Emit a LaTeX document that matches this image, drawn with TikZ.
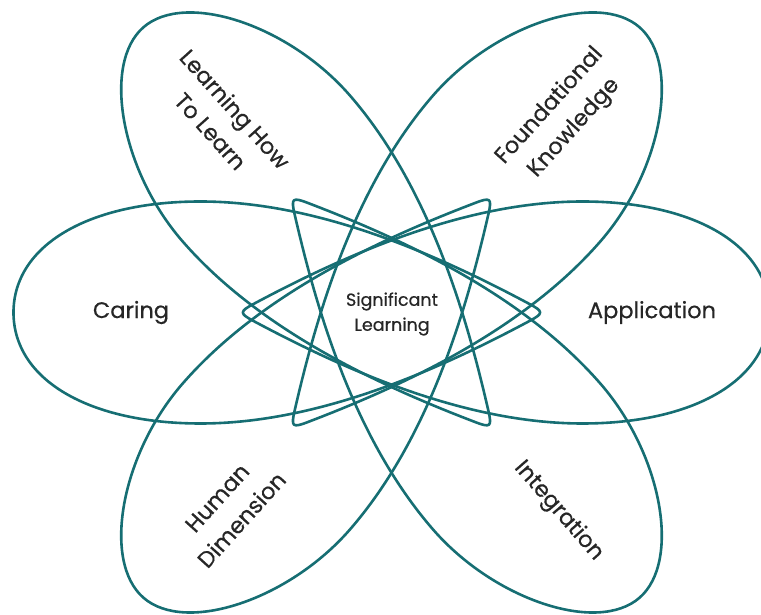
\documentclass[tikz,border=0pt]{standalone}
\usepackage{fontspec}
\setmainfont{Poppins}
\newfontfamily\labelfont[FakeBold=0.5]{Poppins}
\usepackage{tikz}
\definecolor{petalteal}{RGB}{22,110,115}

\begin{document}
\begin{tikzpicture}[x=0.3515cm,y=0.3515cm]
\tikzstyle{petal}=[draw=petalteal,line width=2.6pt]
\tikzstyle{area}=[font=\labelfont\fontsize{22.5}{33}\selectfont,text=black!85,align=center,inner sep=0pt]
\useasboundingbox (-39.15,-30.25) rectangle (36.95,31.25);

% Petals across the middle, wide end outwards
\draw[petal,rotate=0] (-13.8,0.85) .. controls (-5.0,5.55) and (7.1,11.1) .. (19.1,11.1) .. controls (30.3,11.1) and (37.8,6.7) .. (37.8,0) .. controls (37.8,-6.7) and (30.3,-11.1) .. (19.1,-11.1) .. controls (7.1,-11.1) and (-5.0,-5.55) .. (-13.8,-0.85) .. controls (-15.21,-0.10) and (-15.21,0.10) .. cycle;
\draw[petal,rotate=180] (-13.8,0.85) .. controls (-5.0,5.55) and (7.1,11.1) .. (19.1,11.1) .. controls (30.3,11.1) and (37.8,6.7) .. (37.8,0) .. controls (37.8,-6.7) and (30.3,-11.1) .. (19.1,-11.1) .. controls (7.1,-11.1) and (-5.0,-5.55) .. (-13.8,-0.85) .. controls (-15.21,-0.10) and (-15.21,0.10) .. cycle;

% Slanted petals, a bit less full at the end
\draw[petal,rotate=49] (-13.8,0.85) .. controls (-5.0,5.55) and (7.1,11.1) .. (19.1,11.1) .. controls (28.45,11.1) and (37.8,5.55) .. (37.8,0) .. controls (37.8,-5.55) and (28.45,-11.1) .. (19.1,-11.1) .. controls (7.1,-11.1) and (-5.0,-5.55) .. (-13.8,-0.85) .. controls (-15.21,-0.10) and (-15.21,0.10) .. cycle;
\draw[petal,rotate=131] (-13.8,0.85) .. controls (-5.0,5.55) and (7.1,11.1) .. (19.1,11.1) .. controls (28.45,11.1) and (37.8,5.55) .. (37.8,0) .. controls (37.8,-5.55) and (28.45,-11.1) .. (19.1,-11.1) .. controls (7.1,-11.1) and (-5.0,-5.55) .. (-13.8,-0.85) .. controls (-15.21,-0.10) and (-15.21,0.10) .. cycle;
\draw[petal,rotate=229] (-13.8,0.85) .. controls (-5.0,5.55) and (7.1,11.1) .. (19.1,11.1) .. controls (28.45,11.1) and (37.8,5.55) .. (37.8,0) .. controls (37.8,-5.55) and (28.45,-11.1) .. (19.1,-11.1) .. controls (7.1,-11.1) and (-5.0,-5.55) .. (-13.8,-0.85) .. controls (-15.21,-0.10) and (-15.21,0.10) .. cycle;
\draw[petal,rotate=311] (-13.8,0.85) .. controls (-5.0,5.55) and (7.1,11.1) .. (19.1,11.1) .. controls (28.45,11.1) and (37.8,5.55) .. (37.8,0) .. controls (37.8,-5.55) and (28.45,-11.1) .. (19.1,-11.1) .. controls (7.1,-11.1) and (-5.0,-5.55) .. (-13.8,-0.85) .. controls (-15.21,-0.10) and (-15.21,0.10) .. cycle;

% Labels
\node (SL) [area,font=\labelfont\fontsize{17.5}{25}\selectfont] at (0.05,-0.15) {Significant\\Learning};
\node (CAR) [area] at (-26.05,0) {Caring};
\node (APP) [area] at (26.05,0) {Application};
\node (LHL) [area,rotate=-48] at (-16.85,19.25) {Learning How\\To Learn};
\node (FK) [area,rotate=48] at (17.05,19.55) {Foundational\\Knowledge};
\node (HD) [area,rotate=48] at (-16.2,-19.65) {Human\\Dimension};
\node (INT) [area,rotate=-49] at (16.7,-19.85) {Integration};
\end{tikzpicture}
\end{document}
